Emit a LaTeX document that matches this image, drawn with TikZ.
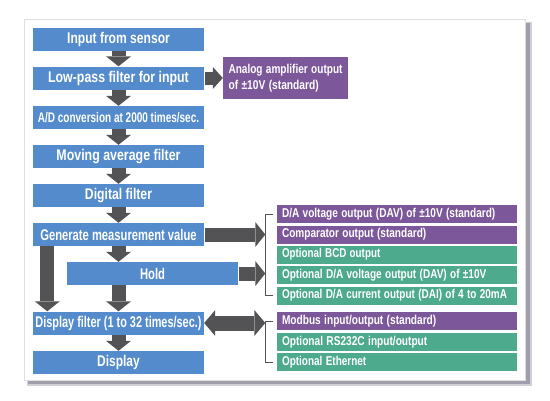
\documentclass[tikz,border=0pt]{standalone}
\usepackage{fontspec}
\setmainfont{Liberation Sans}
\usetikzlibrary{arrows.meta}
\definecolor{bx}{RGB}{84,139,204}
\definecolor{pu}{RGB}{124,88,154}
\definecolor{te}{RGB}{77,170,140}
\definecolor{ar}{RGB}{83,83,86}
\definecolor{shd}{RGB}{160,158,170}
\newcommand{\fw}[2]{\resizebox{#1pt}{\height}{#2}}
\begin{document}
\begin{tikzpicture}[x=1pt,y=-1pt,
  lbox/.style={fill=bx,text=white,minimum width=171pt,minimum height=23pt,inner sep=0pt,
    font=\fontsize{15.5}{17}\selectfont\bfseries},
  obox/.style={text=white,minimum width=239pt,minimum height=18pt,text width=229pt,
    align=left,inner xsep=5.5pt,inner ysep=0pt,font=\fontsize{12.8}{14}\selectfont\bfseries},
  pbox/.style={obox,fill=pu},
  tbox/.style={obox,fill=te},
  blk/.style={draw=ar,line width=14pt,-{Triangle[length=10pt,width=25pt,line width=0pt]}},
  dblk/.style={draw=ar,line width=15pt,{Triangle[length=11pt,width=26pt,line width=0pt]}-{Triangle[length=11pt,width=26pt,line width=0pt]}},
  brk/.style={draw=ar,line width=0.9pt}]
\useasboundingbox (0,0) rectangle (550,400);
% panel
\fill[shd!50] (27,22) rectangle (532,386);
\fill[shd] (28,23) rectangle (530,384);
\filldraw[fill=white,draw=gray!25,line width=1pt] (24,19) rectangle (525,380);
% left column
\node[lbox] (in) at (118.5,39) {\fw{102.7}{Input from sensor}};
\node[lbox] (lp) at (118.5,78) {\fw{140.7}{Low-pass filter for input}};
\node[lbox] (ad) at (118.5,117.5) {\fontsize{14}{15}\selectfont\fw{161.3}{A/D conversion at 2000 times/sec.}};
\node[lbox] (ma) at (118.5,156.5) {\fw{124}{Moving average filter}};
\node[lbox] (df) at (118.5,195.5) {\fw{67}{Digital filter}};
\node[lbox] (gen) at (118.5,234.5) {\fw{156.3}{Generate measurement value}};
\node[lbox] (hold) at (152.5,273.5) {\fw{25}{Hold}};
\node[lbox] (dispf) at (118.5,323) {\fw{166}{Display filter (1 to 32 times/sec.)}};
\node[lbox] (disp) at (118.5,362.5) {\fw{42.7}{Display}};
% analog box
\node[fill=pu,text=white,minimum width=125pt,minimum height=42pt,text width=114pt,
  align=left,inner xsep=5.5pt,inner ysep=0pt,font=\fontsize{12.8}{16}\selectfont\bfseries]
  (ana) at (285.5,78) {\fw{114}{Analog amplifier output}\\\fw{90.3}{of ±10V (standard)}};
% right boxes
\node[pbox] (dav) at (396.5,214) {\fw{213.3}{D/A voltage output (DAV) of ±10V (standard)}};
\node[pbox] (cmp) at (396.5,234.5) {\fw{144.3}{Comparator output (standard)}};
\node[tbox] (bcd) at (396.5,254.5) {\fw{98.3}{Optional BCD output}};
\node[tbox] (odav) at (396.5,275) {\fw{204.3}{Optional D/A voltage output (DAV) of ±10V}};
\node[tbox] (odai) at (396.5,295.5) {\fw{225}{Optional D/A current output (DAI) of 4 to 20mA}};
\node[pbox] (mod) at (396.5,321) {\fw{154.3}{Modbus input/output (standard)}};
\node[tbox] (rs) at (396.5,342) {\fw{145.3}{Optional RS232C input/output}};
\node[tbox] (eth) at (396.5,362) {\fw{84.3}{Optional Ethernet}};
% brackets
\coordinate (bx1) at ([xshift=-11pt]dav.west);
\coordinate (bx2) at ([xshift=-11pt]mod.west);
\draw[brk] ([xshift=-3pt]dav.west) -- (bx1) -- (bx1 |- odai.west) -- ([xshift=-3pt]odai.west);
\draw[brk] ([xshift=-3pt]mod.west) -- (bx2) -- (bx2 |- eth.west) -- ([xshift=-3pt]eth.west);
% vertical arrows
\draw[blk] (in.south) -- (lp.north);
\draw[blk] (lp.south) -- (ad.north);
\draw[blk] (ad.south) -- (ma.north);
\draw[blk] (ma.south) -- (df.north);
\draw[blk] (df.south) -- (gen.north);
\draw[blk] (gen.south) -- (gen.south |- hold.north);
\draw[blk] (hold.south -| gen.south) -- (dispf.north);
\draw[blk] ([xshift=14.5pt]gen.south west) -- ([xshift=14.5pt]dispf.north west);
\draw[blk] (dispf.south) -- (disp.north);
% horizontal arrows
\draw[draw=ar,line width=13pt,-{Triangle[length=10pt,width=22pt,line width=0pt]}] ([xshift=1pt]lp.east) -- (ana.west);
\draw[blk] ([xshift=1pt]gen.east) -- (bx1 |- gen.east);
\draw[blk] ([xshift=1pt]hold.east) -- (bx1 |- hold.east);
\draw[dblk] (dispf.east) -- (bx2 |- dispf.east);
\end{tikzpicture}
\end{document}
